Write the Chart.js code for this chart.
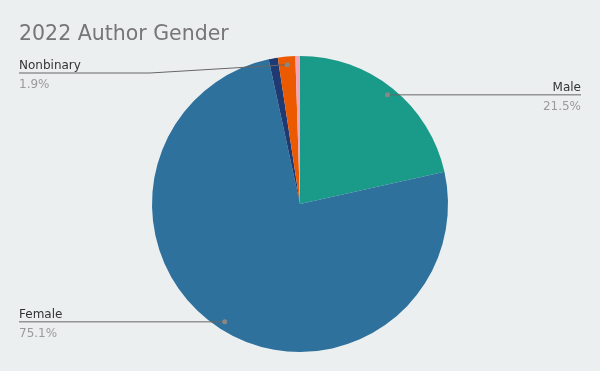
<!DOCTYPE html>
<html>
<head>
<meta charset="utf-8">
<script src="https://cdn.jsdelivr.net/npm/chart.js@4"></script>
<style>
  html, body { margin: 0; padding: 0; background: #eceff0; }
  #wrap { width: 600px; height: 371px; position: relative; }
</style>
</head>
<body>
<div id="wrap"><canvas id="canvas" width="600" height="371"></canvas></div>
<script>
// chart data
let titleText = '2022 Author Gender';
let categories = ['Male', 'Female', 'Other', 'Nonbinary', 'Prefer not to say'];
let shares = [21.5, 75.1, 1.0, 1.9, 0.5];
let labelled = [true, true, false, true, false];
let sliceColors = ['#1a9a88', '#2d719c', '#1f3a72', '#ec5a00', '#f5a3b6'];

let FONT = '"DejaVu Sans", Verdana, sans-serif';

// draws the title plus the outside labels with leader lines
let calloutPlugin = {
  id: 'callouts',
  afterDraw: function(chart) {
    let ctx = chart.ctx;
    let meta = chart.getDatasetMeta(0);
    let w = chart.width;

    ctx.save();
    ctx.font = '20.5px ' + FONT;
    ctx.fillStyle = '#767676';
    ctx.textAlign = 'left';
    ctx.textBaseline = 'alphabetic';
    ctx.fillText(titleText, 19, 40);

    meta.data.forEach(function(arc, i) {
      if (!labelled[i]) return;
      let mid = (arc.startAngle + arc.endAngle) / 2;
      let r = arc.outerRadius * 0.945;
      let dx = arc.x + Math.cos(mid) * r;
      let dy = arc.y + Math.sin(mid) * r;
      let right = Math.cos(mid) > 0;
      let lineY = Math.max(dy, 73);
      let endX = right ? w - 19 : 19;

      ctx.strokeStyle = '#666';
      ctx.lineWidth = 1;
      ctx.beginPath();
      ctx.moveTo(dx, dy);
      if (lineY !== dy) {
        let elbowX = right ? arc.x + arc.outerRadius + 2 : arc.x - arc.outerRadius - 2;
        ctx.lineTo(elbowX, lineY);
      }
      ctx.lineTo(endX, lineY);
      ctx.stroke();

      ctx.fillStyle = '#888';
      ctx.beginPath();
      ctx.arc(dx, dy, 2.5, 0, Math.PI * 2);
      ctx.fill();

      ctx.textAlign = right ? 'right' : 'left';
      ctx.font = '12px ' + FONT;
      ctx.fillStyle = '#333';
      ctx.fillText(categories[i], endX, lineY - 4);
      ctx.fillStyle = '#9a9a9a';
      ctx.fillText(shares[i].toFixed(1) + '%', endX, lineY + 15);
    });
    ctx.restore();
  }
};

let ctx = document.getElementById('canvas').getContext('2d');
window.my_chart = new Chart(ctx, {
  type: 'pie',
  data: {
    labels: categories,
    datasets: [{
      data: shares,
      backgroundColor: sliceColors,
      borderWidth: 0
    }]
  },
  options: {
    responsive: false,
    animation: false,
    layout: { padding: { top: 56, bottom: 19, left: 0, right: 0 } },
    plugins: {
      legend: { display: false },
      tooltip: { enabled: false },
      title: { display: false }
    }
  },
  plugins: [calloutPlugin]
});
</script>
</body>
</html>
